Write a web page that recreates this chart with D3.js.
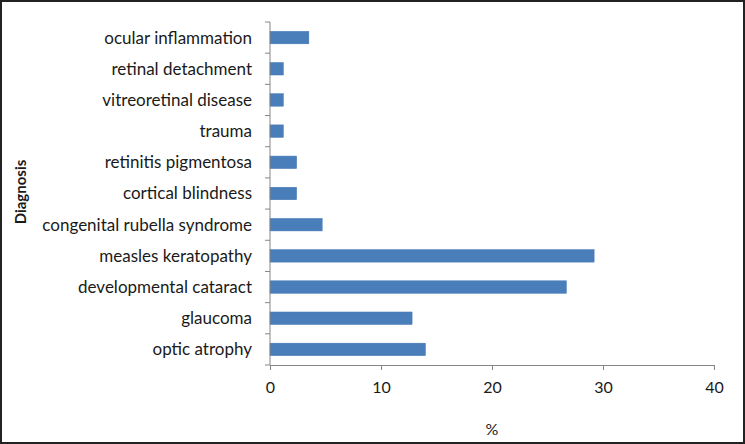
<!DOCTYPE html>
<meta charset="UTF-8">
<style>
body { margin: 0; background: #fff; }
text { font-family: Lato, "Open Sans", sans-serif; fill: #1a1a1a; }
.axis path, .axis line { stroke: #868686; }
</style>
<body>
<script src="https://d3js.org/d3.v7.min.js"></script>
<script>

// categories listed bottom to top, as in the picture
var diagnoses = ["optic atrophy", "glaucoma", "developmental cataract", "measles keratopathy",
  "congenital rubella syndrome", "cortical blindness", "retinitis pigmentosa", "trauma",
  "vitreoretinal disease", "retinal detachment", "ocular inflammation"];
var percents = [14.0, 12.8, 26.7, 29.2, 4.7, 2.4, 2.4, 1.2, 1.2, 1.2, 3.5];
var xTicks = [0, 10, 20, 30, 40];

var W = 745, H = 444;
var plot = {left: 270, right: 714, top: 22, bottom: 365};

var svg = d3.select("body").append("svg")
    .attr("width", W)
    .attr("height", H);

// outer frame
svg.append("rect")
    .attr("x", 1).attr("y", 1)
    .attr("width", W - 2).attr("height", H - 2)
    .attr("fill", "#fff")
    .attr("stroke", "#222")
    .attr("stroke-width", 2);

var x = d3.scaleLinear().domain([0, 40]).range([plot.left, plot.right]);
var y = d3.scaleBand().domain(diagnoses).range([plot.bottom, plot.top]).paddingInner(0.6).paddingOuter(0.3);

// bars
svg.selectAll("rect.bar")
    .data(diagnoses)
    .enter().append("rect")
    .attr("class", "bar")
    .attr("x", x(0))
    .attr("y", function(d) { return y(d); })
    .attr("width", function(d, i) { return x(percents[i]) - x(0); })
    .attr("height", y.bandwidth())
    .attr("fill", "#4a7ebb")
    .attr("stroke", "#4076b4")
    .attr("stroke-width", 0.5);

// x axis
var xAxis = svg.append("g")
    .attr("class", "axis")
    .attr("transform", "translate(0," + plot.bottom + ")")
    .call(d3.axisBottom(x).tickValues(xTicks).tickSize(5).tickSizeOuter(0).tickPadding(12));
xAxis.selectAll("text").style("font-size", "16px").attr("fill", "#1a1a1a");

// y axis: ticks sit between the categories
var step = (plot.bottom - plot.top) / diagnoses.length;
var yAxis = svg.append("g").attr("class", "axis");
yAxis.append("line")
    .attr("x1", plot.left).attr("x2", plot.left)
    .attr("y1", plot.top).attr("y2", plot.bottom);
yAxis.selectAll("line.tick")
    .data(d3.range(diagnoses.length + 1))
    .enter().append("line")
    .attr("class", "tick")
    .attr("x1", plot.left - 5).attr("x2", plot.left)
    .attr("y1", function(i) { return plot.top + i * step; })
    .attr("y2", function(i) { return plot.top + i * step; });

svg.selectAll("text.cat")
    .data(diagnoses)
    .enter().append("text")
    .attr("class", "cat")
    .attr("x", 252)
    .attr("y", function(d) { return y(d) + y.bandwidth() / 2; })
    .attr("dy", "0.35em")
    .attr("text-anchor", "end")
    .style("font-size", "17px")
    .text(function(d) { return d; });

// axis titles
svg.append("text")
    .attr("x", 492).attr("y", 429)
    .attr("dy", "0.35em")
    .attr("text-anchor", "middle")
    .style("font-size", "16px")
    .text("%");

svg.append("text")
    .attr("transform", "translate(21,192) rotate(-90)")
    .attr("dy", "0.35em")
    .attr("text-anchor", "middle")
    .style("font-size", "15px")
    .style("font-weight", "bold")
    .text("Diagnosis");

</script>
</body>
